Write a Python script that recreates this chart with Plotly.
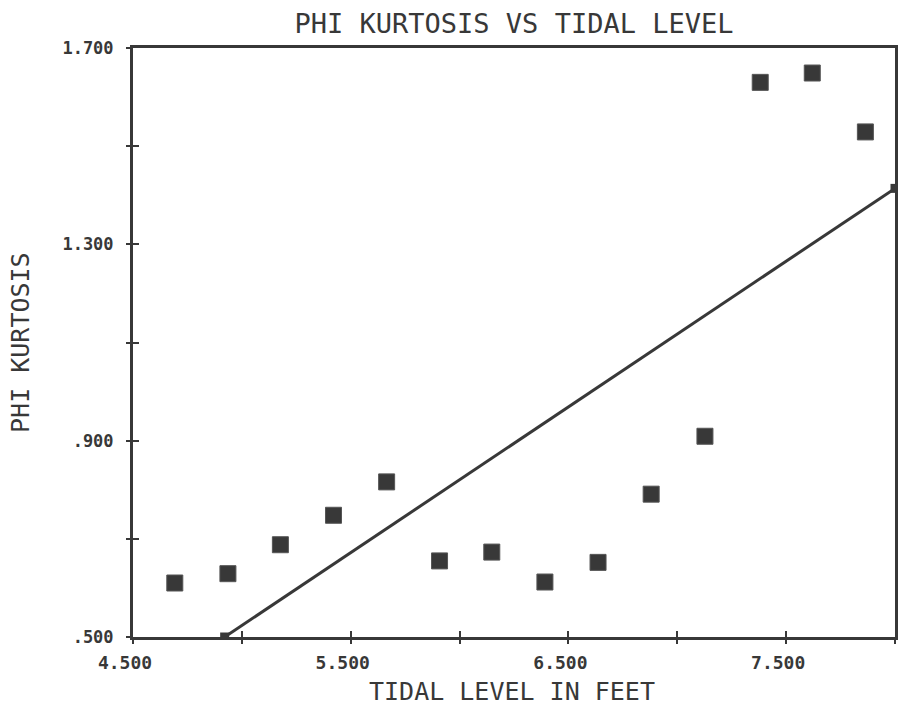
import plotly.graph_objects as go

# data
tidal_level = [4.692, 4.936, 5.177, 5.421, 5.665, 5.908, 6.148, 6.392, 6.636, 6.880, 7.127, 7.381, 7.620, 7.864]
phi_kurtosis = [0.610, 0.629, 0.688, 0.748, 0.816, 0.655, 0.673, 0.612, 0.652, 0.791, 0.909, 1.630, 1.649, 1.529]

fit_x = [4.921, 8.0]
fit_y = [0.5, 1.414]

x_tickvals = [4.5, 5.0, 5.5, 6.0, 6.5, 7.0, 7.5, 8.0]
x_ticktext = ["4.500", "", "5.500", "", "6.500", "", "7.500", ""]
y_tickvals = [0.5, 0.7, 0.9, 1.1, 1.3, 1.5, 1.7]
y_ticktext = [".500", "", ".900", "", "1.300", "", "1.700"]

INK = "#383838"
FONT = "DejaVu Sans Mono"

fig = go.Figure()
fig.add_trace(go.Scatter(
    x=fit_x, y=fit_y, mode="lines+markers",
    line=dict(color=INK, width=3),
    marker=dict(symbol="square", size=9, color=INK),
    showlegend=False,
))
fig.add_trace(go.Scatter(
    x=tidal_level, y=phi_kurtosis, mode="markers",
    marker=dict(symbol="square", size=16, color=INK, line=dict(width=1, color="#555555")),
    showlegend=False,
))
# invisible trace on overlay axes that carry the outward tick halves
fig.add_trace(go.Scatter(x=fit_x, y=fit_y, xaxis="x2", yaxis="y2", mode="markers",
                         marker=dict(opacity=0), showlegend=False, hoverinfo="skip"))

axis_common = dict(
    showgrid=False, zeroline=False, showline=True, linewidth=3, linecolor=INK,
    mirror=True, ticks="inside", ticklen=6, tickwidth=2, tickcolor=INK,
)
outer_common = dict(
    showticklabels=False, ticks="outside", ticklen=6, tickwidth=2, tickcolor=INK,
    showgrid=False, zeroline=False, showline=False,
)

fig.update_layout(
    width=904, height=710,
    margin=dict(l=133, r=6, t=48, b=73),
    paper_bgcolor="white", plot_bgcolor="white",
    title=dict(text="PHI KURTOSIS VS TIDAL LEVEL", x=0.5, xref="paper", xanchor="center",
               y=1 - 24 / 710, yref="container", yanchor="middle",
               font=dict(family=FONT, size=27, color=INK)),
    xaxis=dict(range=[4.5, 8.0], tickmode="array", tickvals=x_tickvals, ticktext=x_ticktext,
               ticklabelshift=-8, ticklabelstandoff=7,
               tickfont=dict(family=FONT, size=18, color=INK, weight="bold"), **axis_common),
    yaxis=dict(range=[0.5, 1.7], tickmode="array", tickvals=y_tickvals, ticktext=y_ticktext,
               ticklabelstandoff=13,
               tickfont=dict(family=FONT, size=17, color=INK, weight="bold"), **axis_common),
    xaxis2=dict(range=[4.5, 8.0], overlaying="x", anchor="y2", tickmode="array", tickvals=x_tickvals,
                side="bottom", **outer_common),
    yaxis2=dict(range=[0.5, 1.7], overlaying="y", anchor="x2", tickmode="array", tickvals=y_tickvals,
                side="left", **outer_common),
    annotations=[
        dict(text="TIDAL LEVEL IN FEET", xref="paper", yref="paper", x=0.497, y=(637 - 691) / 589,
             xanchor="center", yanchor="middle", showarrow=False,
             font=dict(family=FONT, size=25, color=INK)),
        dict(text="PHI KURTOSIS", xref="paper", yref="paper", x=(20 - 133) / 765, y=0.5,
             xanchor="center", yanchor="middle", showarrow=False, textangle=-90,
             font=dict(family=FONT, size=25, color=INK)),
    ],
)

fig.write_html("out.html")
